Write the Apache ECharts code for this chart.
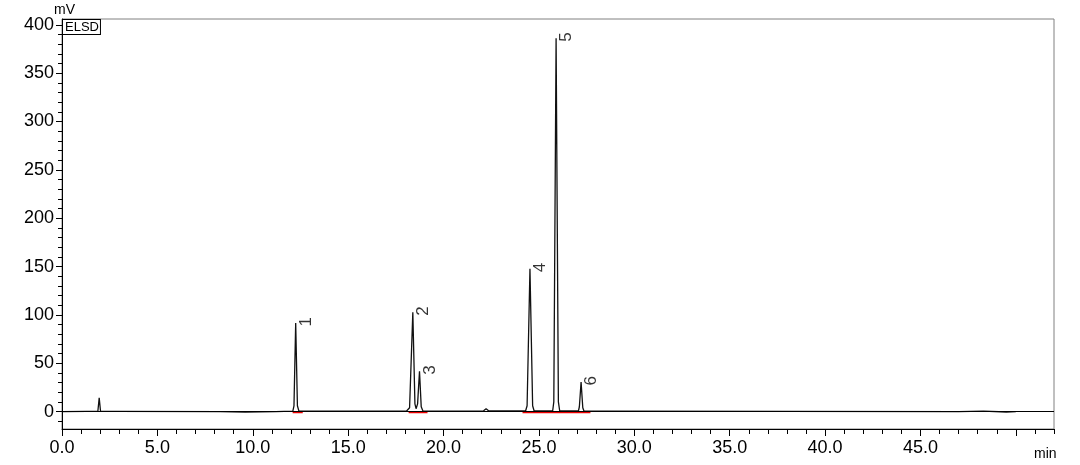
<!DOCTYPE html>
<html><head><meta charset="utf-8">
<script src="https://cdn.jsdelivr.net/npm/echarts@6/dist/echarts.min.js"></script>
<style>html,body{margin:0;padding:0;background:#fff}#c{width:1080px;height:465px}</style>
</head><body><div id="c"></div>
<script>
// Chromatogram trace: [time (min), signal (mV)]
const trace = [
  [0,0],[1.3,0.3],[1.88,0.3],[1.95,14.2],[2.02,0.3],[2.8,0.3],[2.81,0],
  [8.3,0],[8.31,-0.4],[9.6,-0.4],[9.61,0],
  [11.2,0],[11.21,0.5],[12.1,0.5],[12.16,6],[12.25,91.6],[12.34,6],[12.42,0.5],[13.7,0.5],[13.71,0],
  [18.05,0.4],[18.22,4],[18.39,102.7],[18.5,8],[18.56,3],[18.64,8],[18.74,41.7],[18.83,5],[18.92,0.6],[19.3,0.4],
  [20.8,0.5],[22.1,0.8],[22.23,3],[22.36,0.8],
  [24.3,0.6],[24.38,6],[24.53,147.7],[24.67,6],[24.75,0.6],
  [25.72,0.6],[25.78,10],[25.90,386],[26.02,10],[26.09,0.6],
  [27.07,0.6],[27.12,5],[27.21,30.6],[27.3,4],[27.36,0.6],[28.5,0.5],[28.51,0],
  [47,0],[47.01,0.5],[48.3,0.5],[48.31,-0.4],[49.5,-0.4],[49.51,0],[50,0]
];
// Peak labels: [time, height, name]
const peakLabels = [
  [12.25,91.6,'1'],[18.39,102.7,'2'],[18.74,41.7,'3'],
  [24.53,147.7,'4'],[25.90,386,'5'],[27.21,30.6,'6']
];
// Integration baselines (red): [start, end, level]
const integrationBaselines = [
  [12.09,12.62,-0.9],[18.17,19.16,-0.9],[24.14,27.7,-0.9]
];
// Tick positions / labels
const xLabelValues = [0,5,10,15,20,25,30,35,40,45];
const xMajorTicks = [0,5,10,15,20,25,30,35,40,45,50];
const xMinorTicks = [0,1,2,3,4,5,6,7,8,9,10,11,12,13,14,15,16,17,18,19,20,21,22,23,24,25,26,27,28,29,30,31,32,33,34,35,36,37,38,39,40,41,42,43,44,45,46,47,48,49,50,51,52];
const yLabelValues = [0,50,100,150,200,250,300,350,400];
const yMinorTicks = [-10,0,10,20,30,40,50,60,70,80,90,100,110,120,130,140,150,160,170,180,190,200,210,220,230,240,250,260,270,280,290,300,310,320,330,340,350,360,370,380,390,400];

const FONT = '"Liberation Sans", Arial, sans-serif';
const baselineData = [];
integrationBaselines.forEach(function(b){
  baselineData.push([b[0], b[2]], [b[1], b[2]], [null, null]);
});

const chart = echarts.init(document.getElementById('c'), null, {renderer: 'canvas'});
chart.setOption({
  animation: false,
  backgroundColor: '#fff',
  grid: {left: 62, right: 26, top: 19, bottom: 36, show: true, borderColor: '#808080', borderWidth: 1, backgroundColor: 'transparent'},
  xAxis: [
    {type: 'value', min: 0, max: 52, position: 'bottom',
     axisLine: {show: true, onZero: false, lineStyle: {color: '#000', width: 1}},
     axisTick: {show: true, customValues: xMinorTicks, length: 5, lineStyle: {color: '#000'}},
     axisLabel: {customValues: xLabelValues, formatter: function(v){return v.toFixed(1);}, fontSize: 18, color: '#000', margin: 10, fontFamily: FONT},
     splitLine: {show: false}},
    {type: 'value', min: 0, max: 52, position: 'bottom',
     axisLine: {show: false, onZero: false},
     axisTick: {show: true, customValues: xMajorTicks, length: 7, lineStyle: {color: '#000'}},
     axisLabel: {show: false}, splitLine: {show: false}}
  ],
  yAxis: [
    {type: 'value', min: -18, max: 406, position: 'left',
     axisLine: {show: true, onZero: false, lineStyle: {color: '#000', width: 1}},
     axisTick: {show: true, customValues: yLabelValues, length: 6, lineStyle: {color: '#000'}},
     axisLabel: {customValues: yLabelValues, fontSize: 18, color: '#000', margin: 8, fontFamily: FONT},
     splitLine: {show: false}},
    {type: 'value', min: -18, max: 406, position: 'left',
     axisLine: {show: false, onZero: false},
     axisTick: {show: true, customValues: yMinorTicks, length: 4, lineStyle: {color: '#000'}},
     axisLabel: {show: false}, splitLine: {show: false}}
  ],
  graphic: [
    {type: 'text', left: 54, top: 3, style: {text: 'mV', font: '14px ' + FONT, fill: '#000'}},
    {type: 'text', left: 1034, top: 447, style: {text: 'min', font: '14px ' + FONT, fill: '#000'}},
    {type: 'text', left: 62, top: 19, z: 10, style: {text: 'ELSD', font: '13px ' + FONT, fill: '#000', backgroundColor: '#fff', borderColor: '#000', borderWidth: 1, padding: [1, 1, 0, 2]}}
  ],
  series: [
    {type: 'line', name: 'ELSD', data: trace, showSymbol: false, symbol: 'none',
     lineStyle: {color: '#111', width: 1.3}, z: 3,
     markLine: {silent: true, symbol: 'none', label: {show: false},
       lineStyle: {color: '#000', width: 1, type: 'solid'}, data: [{yAxis: 0}]}},
    {type: 'line', name: 'baseline', data: baselineData, showSymbol: false, symbol: 'none', connectNulls: false,
     lineStyle: {color: '#ee0000', width: 1.5}, z: 4},
    {type: 'scatter', name: 'peaks', data: peakLabels, symbolSize: 1, itemStyle: {color: 'rgba(0,0,0,0)'}, z: 5,
     label: {show: true, formatter: function(p){return p.data[2];}, position: [11, 4], rotate: 90,
       align: 'left', verticalAlign: 'middle', fontSize: 17, color: '#000', fontFamily: FONT}}
  ]
});
</script>
</body></html>
